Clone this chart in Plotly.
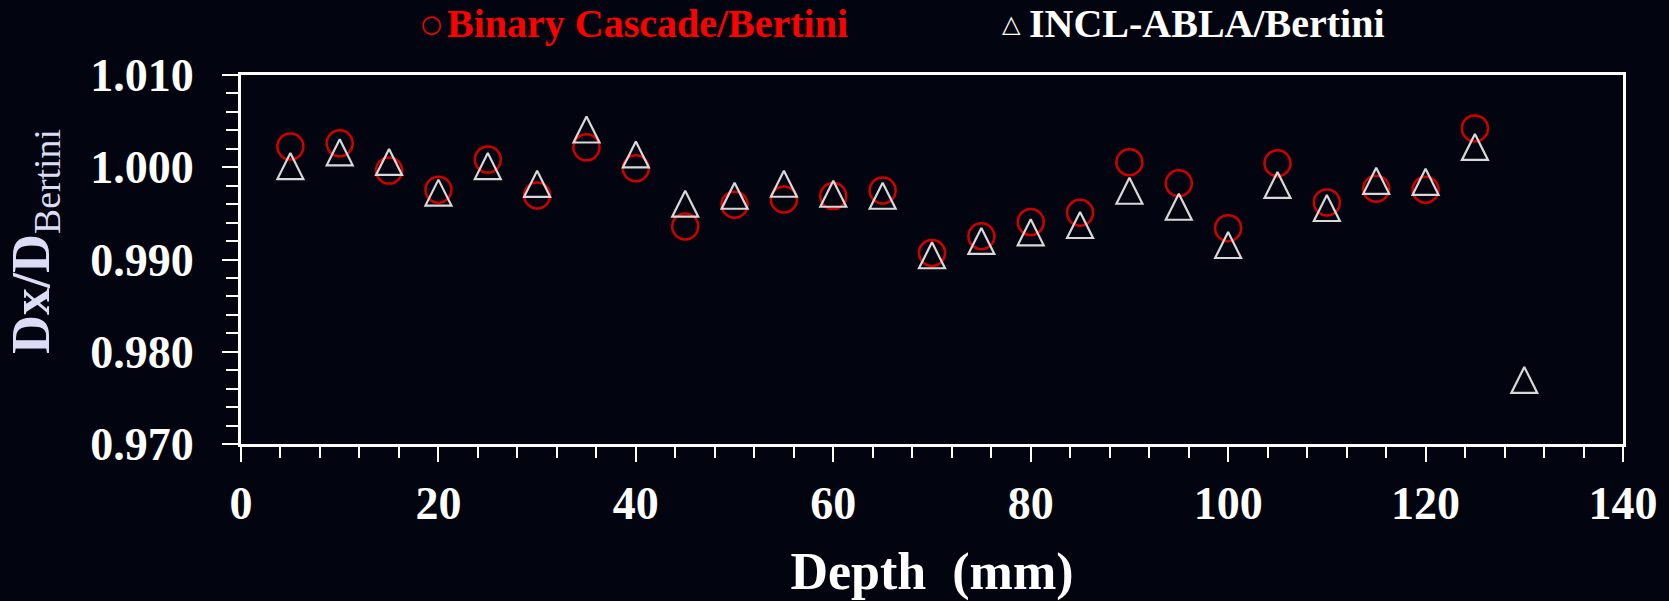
import plotly.graph_objects as go

# Depth positions (mm) and dose ratios relative to the Bertini model
depth_bic = [5, 10, 15, 20, 25, 30, 35, 40, 45, 50, 55, 60, 65, 70, 75, 80, 85, 90,
             95, 100, 105, 110, 115, 120, 125]
ratio_bic = [1.00224, 1.00259, 0.99964, 0.99756, 1.00083, 0.99694, 1.00216, 0.99989,
             0.99359, 0.99594, 0.99651, 0.99687, 0.99748, 0.99071, 0.99252, 0.99406,
             0.99507, 1.00054, 0.99827, 0.99340, 1.00043, 0.99619, 0.99767, 0.99756,
             1.00421]

depth_incl = [5, 10, 15, 20, 25, 30, 35, 40, 45, 50, 55, 60, 65, 70, 75, 80, 85, 90,
              95, 100, 105, 110, 115, 120, 125, 130]
ratio_incl = [1.00013, 1.00162, 1.00058, 0.99725, 1.00013, 0.99820, 1.00409, 1.00139,
              0.99605, 0.99691, 0.99821, 0.99713, 0.99691, 0.99046, 0.99201, 0.99295,
              0.99374, 0.99745, 0.99572, 0.99157, 0.99808, 0.99558, 0.99853, 0.99842,
              1.00220, 0.97695]

name_bic = "Binary Cascade/Bertini"
name_incl = "INCL-ABLA/Bertini"

x_range = [0, 140]
y_range = [0.970, 1.010]
y_ticks = [0.970, 0.980, 0.990, 1.000, 1.010]

BG = "#02040F"
FONT = "Liberation Serif"
RED_TEXT = "#FF0000"

fig = go.Figure()

fig.add_trace(go.Scatter(
    x=depth_bic, y=ratio_bic, mode="markers", name=name_bic,
    marker=dict(symbol="circle", size=26, color="rgba(0,0,0,0)",
                line=dict(color="#D00000", width=2.5)),
))

# open triangle as tall as it is wide, centred on the point
fig.add_trace(go.Scatter(
    x=depth_incl, y=ratio_incl, mode="markers", name=name_incl,
    marker=dict(symbol="arrow-down", angle=180, size=26, standoff=13,
                color="rgba(0,0,0,0)", line=dict(color="#D8D8D8", width=2.2)),
))

# key above the plot: symbol glyph followed by the series name
key = [("\u25CB", name_bic, RED_TEXT, 431, 445),
       ("\u25B3", name_incl, "#FFFFFF", 1011, 1027)]
for glyph, label, colour, gx, tx in key:
    fig.add_annotation(xref="paper", yref="paper", x=(gx - 241) / 1382,
                       y=1 + (75 - 24) / 369, text=glyph, showarrow=False,
                       xanchor="center", yanchor="middle",
                       font=dict(family="DejaVu Sans", size=24, color=colour))
    fig.add_annotation(xref="paper", yref="paper", x=(tx - 241) / 1382,
                       y=1 + (75 - 23) / 369, text=f"<b>{label}</b>", showarrow=False,
                       xanchor="left", yanchor="middle",
                       font=dict(family=FONT, size=40, color=colour))

# y-axis title
fig.add_annotation(xref="paper", yref="paper", x=(34 - 241) / 1382,
                   y=1 - (242 - 75) / 369, text="<b>Dx/D</b><sub>Bertini</sub>",
                   textangle=-90, showarrow=False, xanchor="center", yanchor="middle",
                   font=dict(family=FONT, size=54, color="#DCDCF5"))

axis_common = dict(showgrid=False, zeroline=False, linecolor="white", linewidth=3,
                   tickcolor="white", tickwidth=2)

fig.update_layout(
    width=1669, height=601,
    paper_bgcolor=BG, plot_bgcolor=BG,
    margin=dict(l=241, r=46, t=75, b=157, autoexpand=False),
    font=dict(family=FONT, color="white"),
    showlegend=False,
    xaxis=dict(range=x_range, dtick=20, tick0=0, ticks="outside", ticklen=15,
               minor=dict(dtick=4, ticks="outside", ticklen=11, tickcolor="white",
                          tickwidth=2),
               mirror=True, ticklabelstandoff=2,
               tickfont=dict(family=FONT, size=46, color="white", weight="bold"),
               title=dict(text="Depth\u00a0 (mm)", standoff=26,
                          font=dict(family=FONT, size=52, color="white", weight="bold")),
               **axis_common),
    yaxis=dict(range=y_range, tickvals=y_ticks, tickformat=".3f", ticks="outside",
               ticklen=16,
               minor=dict(dtick=0.002, ticks="outside", ticklen=12, tickcolor="white",
                          tickwidth=2),
               mirror=True, ticklabelstandoff=19,
               tickfont=dict(family=FONT, size=46, color="white", weight="bold"),
               **axis_common),
    # inner halves of the crossing tick marks
    xaxis2=dict(overlaying="x", anchor="y", side="bottom", range=x_range, dtick=20,
                tick0=0, ticks="inside", ticklen=16, showticklabels=False,
                minor=dict(dtick=4, ticks="inside", ticklen=12, tickcolor="white",
                           tickwidth=2),
                **axis_common),
    yaxis2=dict(overlaying="y", anchor="x", side="left", range=y_range,
                tickvals=y_ticks, ticks="inside", ticklen=11, showticklabels=False,
                minor=dict(dtick=0.002, ticks="inside", ticklen=11, tickcolor="white",
                           tickwidth=2),
                **axis_common),
)

fig.write_html("out.html")
